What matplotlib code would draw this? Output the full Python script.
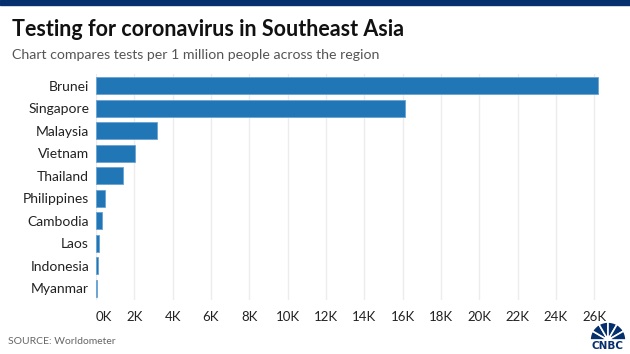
import matplotlib
matplotlib.use("Agg")
import matplotlib.pyplot as plt
from matplotlib.patches import Rectangle, Wedge, Circle
from matplotlib.ticker import FuncFormatter

countries = ["Brunei", "Singapore", "Malaysia", "Vietnam", "Thailand",
             "Philippines", "Cambodia", "Laos", "Indonesia", "Myanmar"]
tests_per_million = [26180, 16150, 3170, 2060, 1400, 490, 330, 140, 90, 50]
xticks = list(range(0, 26001, 2000))

title = "Testing for coronavirus in Southeast Asia"
subtitle = "Chart compares tests per 1 million people across the region"
source = "SOURCE: Worldometer"

W, H = 630, 354
fig = plt.figure(figsize=(W / 100, H / 100), dpi=100)
plt.rcParams['font.family'] = ['Lato', 'DejaVu Sans']

navy = "#062f6e"
fig.patches.append(Rectangle((0, 1 - 5 / H), 1, 5 / H, transform=fig.transFigure,
                             color=navy, zorder=0))

left, right = 96 / W, 600 / W
top, bottom = 1 - 74.4 / H, 1 - 299.6 / H
ax = fig.add_axes([left, bottom, right - left, top - bottom])

ypos = list(range(len(countries)))
ax.barh(ypos, tests_per_million, height=0.75, color="#2176b5",
        edgecolor="#6aa3d4", linewidth=0.6, zorder=3)
ax.set_ylim(len(countries) - 0.5, -0.5)
ax.set_xlim(0, 26300)
ax.set_yticks(ypos)
ax.set_yticklabels(countries, fontsize=10, color="#222222")
ax.set_xticks(xticks)
ax.xaxis.set_major_formatter(FuncFormatter(lambda v, p: f"{int(v / 1000)}K"))
ax.tick_params(axis="x", labelsize=9.5, colors="#222222", length=0, pad=8)
ax.tick_params(axis="y", length=0, pad=5)
labels = ax.get_xticklabels()
labels[0].set_horizontalalignment("left")
for s in ax.spines.values():
    s.set_visible(False)
ax.grid(axis="x", color="#ececec", linewidth=1, zorder=0)
ax.set_axisbelow(True)

fig.text(12 / W, 1 - 29 / H, title, fontsize=15.5, fontweight="bold",
         color="#111111", va="center", ha="left")
fig.text(12 / W, 1 - 55 / H, subtitle, fontsize=10.15, color="#555555",
         va="center", ha="left")
fig.text(8 / W, 1 - 341 / H, source, fontsize=7.5, color="#666666",
         va="center", ha="left")

# CNBC peacock mark drawn in a pixel-coordinate overlay
ov = fig.add_axes([0, 0, 1, 1], zorder=5)
ov.set_xlim(0, W)
ov.set_ylim(H, 0)
ov.axis("off")
ov.patch.set_alpha(0)
cx, cy, r = 608, 340, 18
n = 6
for i in range(n):
    a0 = 180 + i * 180 / n
    a1 = a0 + 180 / n
    ov.add_patch(Wedge((cx, cy), r, a0, a1, facecolor=navy,
                       edgecolor="white", linewidth=1.2))
ov.add_patch(Circle((cx, cy - 1), 3.5, facecolor="white", edgecolor="none"))
ov.text(cx, 346, "CNBC", fontsize=7.5, fontweight="bold", color=navy,
        ha="center", va="center", family=["DejaVu Sans"])

fig.savefig("out.png", dpi=100)
